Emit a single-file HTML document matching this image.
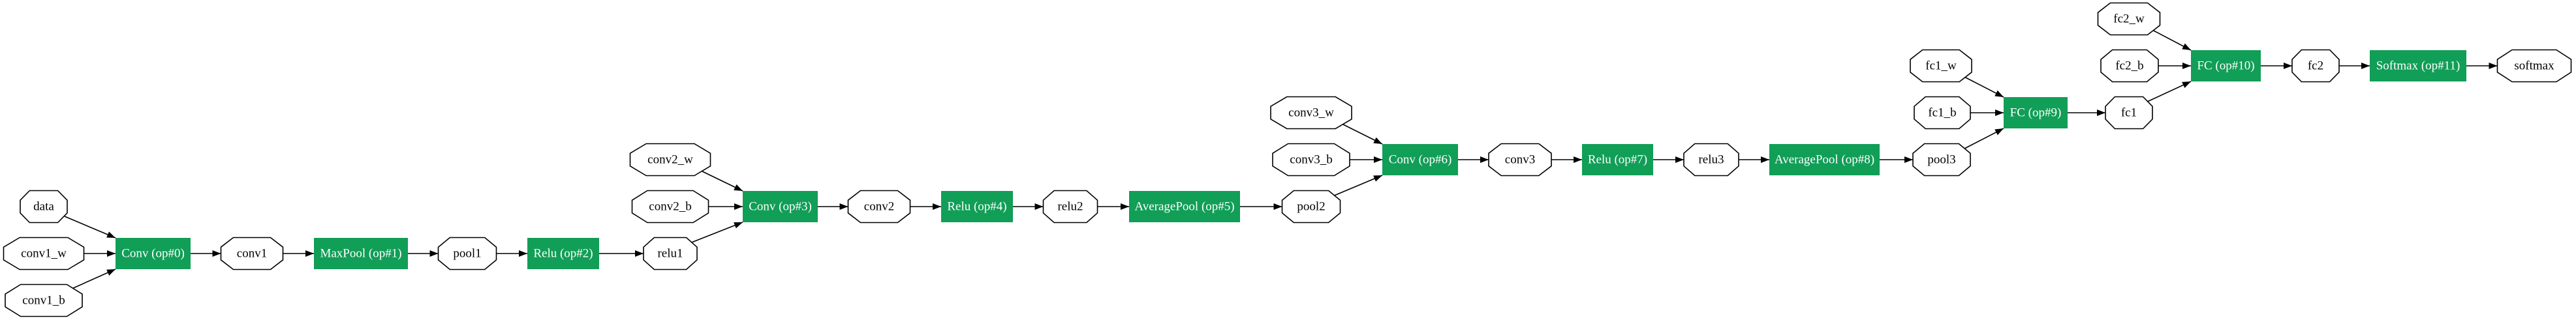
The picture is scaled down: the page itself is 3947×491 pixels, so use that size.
<!DOCTYPE html>
<html><head><meta charset="utf-8"><style>
html,body{margin:0;padding:0;background:#fff;}
svg{display:block;}
text{font-family:"Liberation Serif",serif;font-size:19px;text-anchor:middle;dominant-baseline:central;}
.o{fill:#fff;stroke:#000;stroke-width:1.6;}
.b{fill:#119e57;}
.w{fill:#fff;}
line{stroke:#000;stroke-width:1.6;}
</style></head><body>
<svg width="3947" height="491" viewBox="0 0 3947 491" xmlns="http://www.w3.org/2000/svg">
<defs>
<marker id="a" markerUnits="userSpaceOnUse" markerWidth="14" markerHeight="12" refX="13" refY="5" orient="auto"><path d="M0,0 L13,5 L0,10 Z" fill="#000"/></marker>
</defs>
<g marker-end="url(#a)">
<line x1="99" y1="332" x2="177" y2="365"/>
<line x1="110" y1="443" x2="177" y2="413"/>
<line x1="1072" y1="261" x2="1138" y2="293"/>
<line x1="1057" y1="373" x2="1138" y2="341"/>
<line x1="2054" y1="189" x2="2118" y2="221"/>
<line x1="2042" y1="301" x2="2118" y2="269"/>
<line x1="3008" y1="117" x2="3070" y2="149"/>
<line x1="3008" y1="229" x2="3070" y2="197"/>
<line x1="3296" y1="45" x2="3357" y2="77"/>
<line x1="3288" y1="157" x2="3357" y2="125"/>
<line x1="129" y1="389" x2="177" y2="389"/>
<line x1="292" y1="389" x2="338.5" y2="389"/>
<line x1="433.5" y1="389" x2="481" y2="389"/>
<line x1="625" y1="389" x2="671.5" y2="389"/>
<line x1="760.5" y1="389" x2="808" y2="389"/>
<line x1="918" y1="389" x2="986" y2="389"/>
<line x1="1086" y1="317" x2="1138" y2="317"/>
<line x1="1253" y1="317" x2="1299.5" y2="317"/>
<line x1="1394.5" y1="317" x2="1442" y2="317"/>
<line x1="1552" y1="317" x2="1598.5" y2="317"/>
<line x1="1681.5" y1="317" x2="1730" y2="317"/>
<line x1="1900" y1="317" x2="1964.5" y2="317"/>
<line x1="2068" y1="245" x2="2118" y2="245"/>
<line x1="2234" y1="245" x2="2281" y2="245"/>
<line x1="2377" y1="245" x2="2424" y2="245"/>
<line x1="2533" y1="245" x2="2580" y2="245"/>
<line x1="2664" y1="245" x2="2711" y2="245"/>
<line x1="2880" y1="245" x2="2931" y2="245"/>
<line x1="3019" y1="173" x2="3070" y2="173"/>
<line x1="3168" y1="173" x2="3226" y2="173"/>
<line x1="3307" y1="101" x2="3357" y2="101"/>
<line x1="3464" y1="101" x2="3512" y2="101"/>
<line x1="3584" y1="101" x2="3631" y2="101"/>
<line x1="3779" y1="101" x2="3826.5" y2="101"/>
</g>
<g>
<polygon class="o" vector-effect="non-scaling-stroke" points="0.2,0 0.8,0 1,0.3 1,0.7 0.8,1 0.2,1 0,0.7 0,0.3" transform="translate(31,292.5) scale(72,49)"/>
<polygon class="o" vector-effect="non-scaling-stroke" points="0.2,0 0.8,0 1,0.3 1,0.7 0.8,1 0.2,1 0,0.7 0,0.3" transform="translate(5.5,364.5) scale(123,49)"/>
<polygon class="o" vector-effect="non-scaling-stroke" points="0.2,0 0.8,0 1,0.3 1,0.7 0.8,1 0.2,1 0,0.7 0,0.3" transform="translate(8,436.5) scale(118,49)"/>
<polygon class="o" vector-effect="non-scaling-stroke" points="0.2,0 0.8,0 1,0.3 1,0.7 0.8,1 0.2,1 0,0.7 0,0.3" transform="translate(338.5,364.5) scale(95,49)"/>
<polygon class="o" vector-effect="non-scaling-stroke" points="0.2,0 0.8,0 1,0.3 1,0.7 0.8,1 0.2,1 0,0.7 0,0.3" transform="translate(671.5,364.5) scale(89,49)"/>
<polygon class="o" vector-effect="non-scaling-stroke" points="0.2,0 0.8,0 1,0.3 1,0.7 0.8,1 0.2,1 0,0.7 0,0.3" transform="translate(986,364.5) scale(82,49)"/>
<polygon class="o" vector-effect="non-scaling-stroke" points="0.2,0 0.8,0 1,0.3 1,0.7 0.8,1 0.2,1 0,0.7 0,0.3" transform="translate(965.5,220.5) scale(123,49)"/>
<polygon class="o" vector-effect="non-scaling-stroke" points="0.2,0 0.8,0 1,0.3 1,0.7 0.8,1 0.2,1 0,0.7 0,0.3" transform="translate(968.5,292.5) scale(117,49)"/>
<polygon class="o" vector-effect="non-scaling-stroke" points="0.2,0 0.8,0 1,0.3 1,0.7 0.8,1 0.2,1 0,0.7 0,0.3" transform="translate(1299.5,292.5) scale(95,49)"/>
<polygon class="o" vector-effect="non-scaling-stroke" points="0.2,0 0.8,0 1,0.3 1,0.7 0.8,1 0.2,1 0,0.7 0,0.3" transform="translate(1598.5,292.5) scale(83,49)"/>
<polygon class="o" vector-effect="non-scaling-stroke" points="0.2,0 0.8,0 1,0.3 1,0.7 0.8,1 0.2,1 0,0.7 0,0.3" transform="translate(1964.5,292.5) scale(89,49)"/>
<polygon class="o" vector-effect="non-scaling-stroke" points="0.2,0 0.8,0 1,0.3 1,0.7 0.8,1 0.2,1 0,0.7 0,0.3" transform="translate(1947,148.5) scale(124,49)"/>
<polygon class="o" vector-effect="non-scaling-stroke" points="0.2,0 0.8,0 1,0.3 1,0.7 0.8,1 0.2,1 0,0.7 0,0.3" transform="translate(1950,220.5) scale(118,49)"/>
<polygon class="o" vector-effect="non-scaling-stroke" points="0.2,0 0.8,0 1,0.3 1,0.7 0.8,1 0.2,1 0,0.7 0,0.3" transform="translate(2281,220.5) scale(96,49)"/>
<polygon class="o" vector-effect="non-scaling-stroke" points="0.2,0 0.8,0 1,0.3 1,0.7 0.8,1 0.2,1 0,0.7 0,0.3" transform="translate(2580,220.5) scale(84,49)"/>
<polygon class="o" vector-effect="non-scaling-stroke" points="0.2,0 0.8,0 1,0.3 1,0.7 0.8,1 0.2,1 0,0.7 0,0.3" transform="translate(2931,220.5) scale(88,49)"/>
<polygon class="o" vector-effect="non-scaling-stroke" points="0.2,0 0.8,0 1,0.3 1,0.7 0.8,1 0.2,1 0,0.7 0,0.3" transform="translate(2927,76.5) scale(94,49)"/>
<polygon class="o" vector-effect="non-scaling-stroke" points="0.2,0 0.8,0 1,0.3 1,0.7 0.8,1 0.2,1 0,0.7 0,0.3" transform="translate(2933,148.5) scale(86,49)"/>
<polygon class="o" vector-effect="non-scaling-stroke" points="0.2,0 0.8,0 1,0.3 1,0.7 0.8,1 0.2,1 0,0.7 0,0.3" transform="translate(3226,148.5) scale(72,49)"/>
<polygon class="o" vector-effect="non-scaling-stroke" points="0.2,0 0.8,0 1,0.3 1,0.7 0.8,1 0.2,1 0,0.7 0,0.3" transform="translate(3214.5,4.5) scale(95,49)"/>
<polygon class="o" vector-effect="non-scaling-stroke" points="0.2,0 0.8,0 1,0.3 1,0.7 0.8,1 0.2,1 0,0.7 0,0.3" transform="translate(3219,76.5) scale(88,49)"/>
<polygon class="o" vector-effect="non-scaling-stroke" points="0.2,0 0.8,0 1,0.3 1,0.7 0.8,1 0.2,1 0,0.7 0,0.3" transform="translate(3512,76.5) scale(72,49)"/>
<polygon class="o" vector-effect="non-scaling-stroke" points="0.2,0 0.8,0 1,0.3 1,0.7 0.8,1 0.2,1 0,0.7 0,0.3" transform="translate(3826.5,76.5) scale(113,49)"/>
</g>
<g>
<text x="67" y="317">data</text>
<text x="67" y="389">conv1_w</text>
<text x="67" y="461">conv1_b</text>
<text x="386" y="389">conv1</text>
<text x="716" y="389">pool1</text>
<text x="1027" y="389">relu1</text>
<text x="1027" y="245">conv2_w</text>
<text x="1027" y="317">conv2_b</text>
<text x="1347" y="317">conv2</text>
<text x="1640" y="317">relu2</text>
<text x="2009" y="317">pool2</text>
<text x="2009" y="173">conv3_w</text>
<text x="2009" y="245">conv3_b</text>
<text x="2329" y="245">conv3</text>
<text x="2622" y="245">relu3</text>
<text x="2975" y="245">pool3</text>
<text x="2974" y="101">fc1_w</text>
<text x="2976" y="173">fc1_b</text>
<text x="3262" y="173">fc1</text>
<text x="3262" y="29">fc2_w</text>
<text x="3263" y="101">fc2_b</text>
<text x="3548" y="101">fc2</text>
<text x="3883" y="101">softmax</text>
</g>
<g>
<rect class="b" x="177" y="365" width="115" height="48"/>
<rect class="b" x="481" y="365" width="144" height="48"/>
<rect class="b" x="808" y="365" width="110" height="48"/>
<rect class="b" x="1138" y="293" width="115" height="48"/>
<rect class="b" x="1442" y="293" width="110" height="48"/>
<rect class="b" x="1730" y="293" width="170" height="48"/>
<rect class="b" x="2118" y="221" width="116" height="48"/>
<rect class="b" x="2424" y="221" width="109" height="48"/>
<rect class="b" x="2711" y="221" width="169" height="48"/>
<rect class="b" x="3070" y="149" width="98" height="48"/>
<rect class="b" x="3357" y="77" width="107" height="48"/>
<rect class="b" x="3631" y="77" width="148" height="48"/>
</g>
<g class="w">
<text class="w" x="234.5" y="389">Conv (op#0)</text>
<text class="w" x="553" y="389">MaxPool (op#1)</text>
<text class="w" x="863" y="389">Relu (op#2)</text>
<text class="w" x="1195.5" y="317">Conv (op#3)</text>
<text class="w" x="1497" y="317">Relu (op#4)</text>
<text class="w" x="1815" y="317">AveragePool (op#5)</text>
<text class="w" x="2176" y="245">Conv (op#6)</text>
<text class="w" x="2478.5" y="245">Relu (op#7)</text>
<text class="w" x="2795.5" y="245">AveragePool (op#8)</text>
<text class="w" x="3119" y="173">FC (op#9)</text>
<text class="w" x="3410.5" y="101">FC (op#10)</text>
<text class="w" x="3705" y="101">Softmax (op#11)</text>
</g>
</svg>
</body></html>
